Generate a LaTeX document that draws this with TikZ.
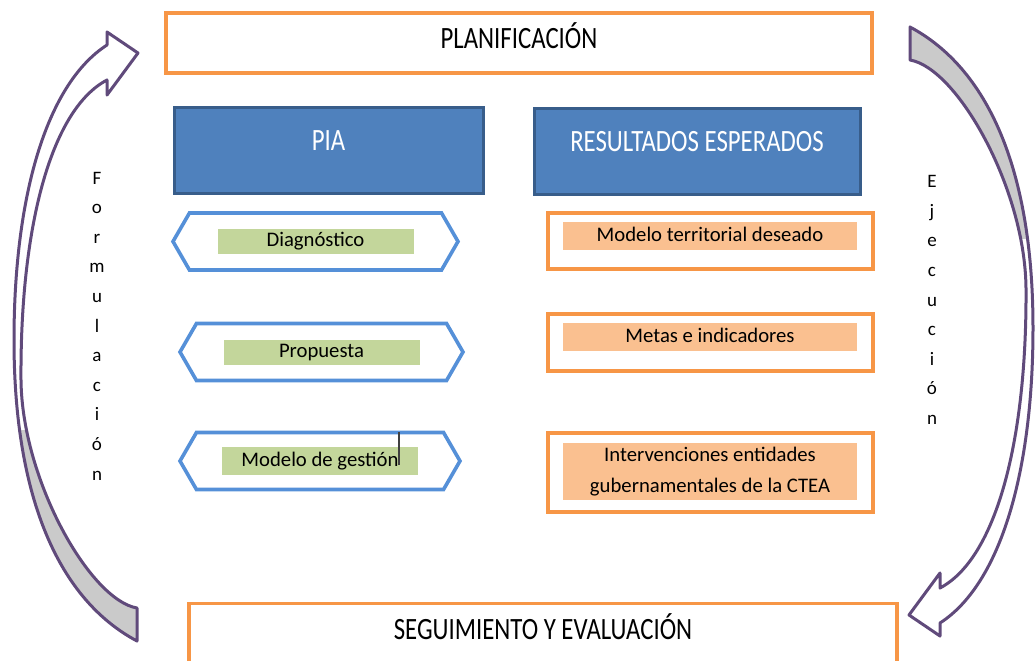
\documentclass[tikz,border=0pt]{standalone}
\usepackage{fontspec}
\setmainfont{Carlito}
\newfontfamily\titlefont[FakeStretch=0.8]{Carlito}
\usetikzlibrary{shapes.symbols,positioning}
\definecolor{boxorange}{HTML}{F79646}
\definecolor{headblue}{HTML}{4F81BD}
\definecolor{headborder}{HTML}{385D8A}
\definecolor{hexblue}{HTML}{5590D8}
\definecolor{labelgreen}{HTML}{C3D69B}
\definecolor{labelsalmon}{HTML}{FAC090}
\definecolor{arrowpurple}{HTML}{604A7B}
\definecolor{arrowgray}{HTML}{CACACA}
% curved arrow of the cycle, drawn in pixel units
\newcommand{\cyclearrow}{%
  \def\ribbon{(107,80) -- (107,95) -- (138,53) -- (107,32) -- (107,45)
    .. controls (45,85) and (14,200) .. (14,340)
    .. controls (14,500) and (60,600) .. (137,641) -- (137,608)
    .. controls (90,600) and (22,480) .. (21,380)
    .. controls (20,230) and (50,110) .. (107,80) -- cycle}%
  \fill[white] \ribbon;
  \begin{scope}
    \clip (0,430) rectangle (160,700);
    \fill[arrowgray] \ribbon;
  \end{scope}
  \draw[arrowpurple, line width=1.5pt, line join=round] \ribbon;
}
\begin{document}
\begin{tikzpicture}[x=0.5pt, y=-0.5pt, font=\fontsize{10.35}{12.4}\selectfont]
\tikzstyle{framebox} = [rectangle, draw=boxorange, line width=1.6pt, fill=white, text centered]
\tikzstyle{titletext} = [font=\titlefont\fontsize{15.5}{18}\selectfont, text height=10pt]
\tikzstyle{headbox} = [rectangle, draw=headborder, fill=headblue, line width=1.5pt, text=white, titletext, text depth=10pt, minimum height=43pt]
\tikzstyle{hexbox} = [signal, signal to=west and east, signal pointer angle=120, draw=hexblue, line width=1.8pt, fill=white, minimum height=28.5pt]
\tikzstyle{greenlabel} = [rectangle, fill=labelgreen, inner sep=0pt, minimum width=98pt, minimum height=12.5pt, text height=7.3pt, text depth=2.2pt]
\tikzstyle{salmonlabel} = [rectangle, fill=labelsalmon, inner sep=0pt, minimum width=147pt, minimum height=14pt, text height=7.3pt, text depth=2.2pt, align=center]
\useasboundingbox (0,0) rectangle (1035,660);

\cyclearrow
\begin{scope}[rotate around={180:(523.5,334)}]
\cyclearrow
\end{scope}

\node (plan) [framebox, titletext, text depth=5pt, minimum width=353pt, minimum height=30pt] at (519,43) {PLANIFICACIÓN};
\node (seg) [framebox, titletext, text depth=6pt, minimum width=354pt, minimum height=32pt, anchor=north] at (543,602) {SEGUIMIENTO Y EVALUACIÓN};

\node (pia) [headbox, minimum width=154.5pt] at (328.5,150) {PIA};
\node (res) [headbox, minimum width=163pt] at (697,151.5) {RESULTADOS ESPERADOS};

\node (diag) [hexbox, minimum width=142.5pt] at (315.5,241.5) {};
\node (diagtxt) [greenlabel] at (diag) {Diagnóstico};
\node (prop) [hexbox, minimum width=141.5pt] at (321.5,352) {};
\node (proptxt) [greenlabel] at (prop) {Propuesta};
\node (gest) [hexbox, minimum width=140pt] at (320,461) {};
\node (gesttxt) [greenlabel, minimum height=14pt] at (gest) {Modelo de gestión};
\draw[line width=0.6pt, black!75] (399,432) -- (399,465);

\node (terr) [framebox, minimum width=162.5pt, minimum height=28pt] at (710.5,241) {};
\node (terrtxt) [salmonlabel] at (710,236) {Modelo territorial deseado};
\node (metas) [framebox, minimum width=162.5pt, minimum height=28.5pt] at (710.5,342.5) {};
\node (metastxt) [salmonlabel] at (710,337) {Metas e indicadores};
\node (interv) [framebox, minimum width=162.5pt, minimum height=39.5pt] at (710.5,472.5) {};
\node (intervtxt) [salmonlabel, minimum height=28.5pt, text height=, text depth=, font=\fontsize{10.35}{15.5}\selectfont] at (710,471.5) {Intervenciones entidades\\gubernamentales de la CTEA};

\node (form) [align=center, font=\fontsize{9.5}{14.8}\selectfont] at (97,326) {F\\o\\r\\m\\u\\l\\a\\c\\i\\ó\\n};
\node (ejec) [align=center, font=\fontsize{9.5}{14.8}\selectfont] at (932,300) {E\\j\\e\\c\\u\\c\\i\\ó\\n};
\end{tikzpicture}
\end{document}
